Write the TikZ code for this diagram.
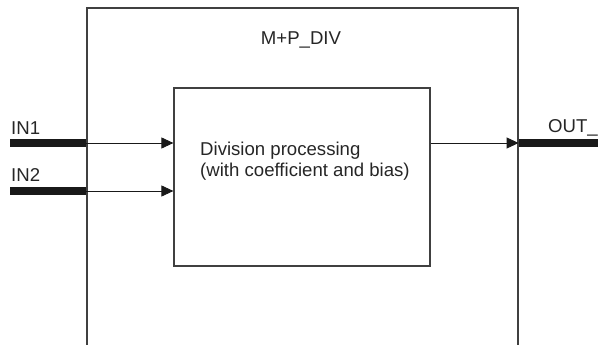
\documentclass[tikz,border=0pt]{standalone}
\usepackage{fontspec}
\setmainfont{Liberation Sans}
\usepackage{tikz}
\usetikzlibrary{arrows.meta, positioning}

\begin{document}
\begin{tikzpicture}[>={Triangle[length=12pt, width=11pt]}, x=1pt, y=-1pt,
    txt/.style={text=black!85, font=\fontsize{18.6}{21}\selectfont, inner sep=0pt},
    box/.style={draw=black!75, line width=1.2pt, inner sep=0pt},
    bar/.style={line width=7.5pt, black!90},
    sig/.style={->, line width=0.9pt, black!90}]
    \useasboundingbox (0,0) rectangle (598,345);

    % 1. Khối hàm và khối xử lý
    \node[box, minimum width=431pt, minimum height=372pt] (fb) at (302.5,194) {};
    \node[box, minimum width=256pt, minimum height=178pt] (proc) at (302,177) {};
    \node[txt, anchor=base] (name) at (301,45) {M+P\_DIV};
    \node[txt, align=left, anchor=base west] (desc) at (200,176)
        {Division processing\\(with coefficient and bias)};

    % 2. Đầu vào
    \coordinate (in1) at (10,143);
    \coordinate (in2) at (10,191);
    \node[txt, anchor=base west] (lin1) at (11,135) {IN1};
    \node[txt, anchor=base west] (lin2) at (11,182) {IN2};
    \draw[bar] (in1) -- (in1 -| fb.west);
    \draw[bar] (in2) -- (in2 -| fb.west);
    \draw[sig] (in1 -| fb.west) -- (in1 -| proc.west);
    \draw[sig] (in2 -| fb.west) -- (in2 -| proc.west);

    % 3. Đầu ra
    \coordinate (out) at (610,143);
    \node[txt, anchor=base west] (lout) at (548,133) {OUT\_};
    \draw[sig] (out -| proc.east) -- (out -| fb.east);
    \draw[bar] (out -| fb.east) -- (out);
\end{tikzpicture}
\end{document}
